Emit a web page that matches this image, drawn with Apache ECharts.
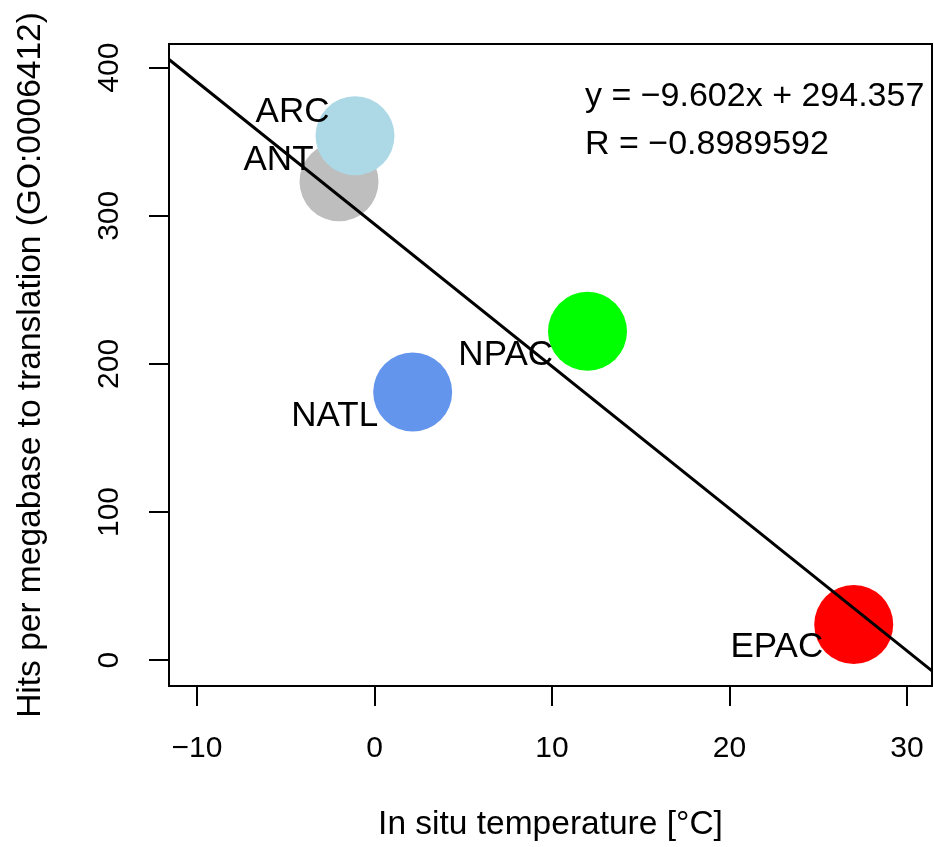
<!DOCTYPE html>
<html>
<head>
<meta charset="utf-8">
<script src="https://cdn.jsdelivr.net/npm/echarts@6/dist/echarts.min.js"></script>
<style>
  html, body { margin: 0; padding: 0; background: #ffffff; }
  #chart { width: 934px; height: 847px; }
</style>
</head>
<body>
<div id="chart"></div>
<script>
// Ocean regions, in-situ temperature and translation-gene hits
const regions = ['ANT', 'ARC', 'NATL', 'NPAC', 'EPAC'];
const temperature = [-2.0, -1.1, 2.15, 12.0, 27.0];
const hitsPerMb = [323, 354, 181, 222, 24];

// Linear fit reported on the plot
const fitSlope = -9.602;
const fitIntercept = 294.357;
const fitR = -0.8989592;

// Axis ticks
const xTicks = [-10, 0, 10, 20, 30];
const yTicks = [0, 100, 200, 300, 400];

// --- presentation ---------------------------------------------------------
const FONT = '"Liberation Sans", Arial, Helvetica, sans-serif';
const xLimits = [-11.58, 31.41];
const yLimits = [-17.5, 416];
const regionColors = {
  ANT: '#bebebe', ARC: '#add8e6', NATL: '#6495ed', NPAC: '#00ff00', EPAC: '#ff0000'
};
// label shift relative to the left edge of each disc
const labelShift = {
  ANT: [14, -21], ARC: [14, -23], NATL: [5, 24], NPAC: [5, 24], EPAC: [9, 23]
};
const minus = v => String(v).replace('-', '\u2212');

const points = regions.map((name, i) => ({
  name,
  value: [temperature[i], hitsPerMb[i]],
  itemStyle: { color: regionColors[name], opacity: 1 },
  label: { offset: labelShift[name] }
}));

const fitLine = xLimits.map(x => [x, fitSlope * x + fitIntercept]);

const chart = echarts.init(document.getElementById('chart'), null, { renderer: 'canvas' });

chart.setOption({
  backgroundColor: '#ffffff',
  animation: false,
  textStyle: { fontFamily: FONT },
  grid: {
    left: 169, right: 2, top: 44, bottom: 160,
    show: true, borderColor: '#000', borderWidth: 2, backgroundColor: 'transparent'
  },
  xAxis: {
    type: 'value',
    min: xLimits[0], max: xLimits[1],
    name: 'In situ temperature [\u00b0C]',
    nameLocation: 'middle',
    nameGap: 122,
    nameTextStyle: { fontSize: 33.5, color: '#000', fontFamily: FONT },
    axisLine: { show: true, onZero: false, lineStyle: { color: '#000', width: 2 } },
    axisTick: { show: true, inside: false, length: 20, lineStyle: { color: '#000', width: 2 },
      customValues: xTicks },
    axisLabel: { show: true, margin: 48, fontSize: 30, color: '#000', fontFamily: FONT,
      customValues: xTicks, formatter: v => minus(v) },
    splitLine: { show: false }
  },
  yAxis: {
    type: 'value',
    min: yLimits[0], max: yLimits[1],
    name: 'Hits per megabase to translation (GO:0006412)',
    nameLocation: 'middle',
    nameGap: 121,
    nameRotate: 90,
    nameTextStyle: { fontSize: 33.5, color: '#000', fontFamily: FONT },
    axisLine: { show: true, onZero: false, lineStyle: { color: '#000', width: 2 } },
    axisTick: { show: true, inside: false, length: 20, lineStyle: { color: '#000', width: 2 },
      customValues: yTicks },
    axisLabel: { show: true, margin: 44, rotate: 90, fontSize: 30, color: '#000', fontFamily: FONT,
      customValues: yTicks, formatter: v => minus(v) },
    splitLine: { show: false }
  },
  series: [
    {
      type: 'scatter',
      symbol: 'circle',
      symbolSize: 79,
      data: points,
      z: 2,
      label: {
        show: true,
        position: 'left',
        distance: 0,
        formatter: p => p.name,
        fontSize: 35,
        color: '#000',
        fontFamily: FONT
      },
      emphasis: { disabled: true }
    },
    {
      type: 'line',
      data: fitLine,
      symbol: 'none',
      clip: true,
      z: 3,
      lineStyle: { color: '#000', width: 3 },
      emphasis: { disabled: true }
    }
  ],
  graphic: [
    {
      type: 'text', x: 585, y: 97, z: 10,
      style: {
        text: 'y = \u2212' + Math.abs(fitSlope).toFixed(3) + 'x + ' + fitIntercept.toFixed(3),
        font: '34px ' + FONT, fill: '#000', verticalAlign: 'middle', textVerticalAlign: 'middle'
      }
    },
    {
      type: 'text', x: 585, y: 145, z: 10,
      style: {
        text: 'R = ' + minus(fitR),
        font: '34px ' + FONT, fill: '#000', verticalAlign: 'middle', textVerticalAlign: 'middle'
      }
    }
  ]
});
</script>
</body>
</html>
